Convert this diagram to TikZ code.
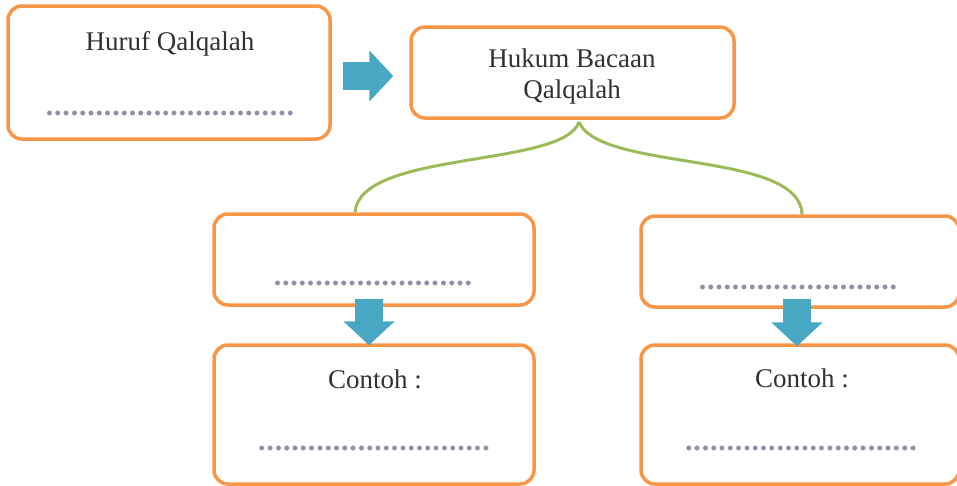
\documentclass[tikz,border=0pt]{standalone}
\usepackage{fontspec}
\setmainfont{Liberation Serif}
\usetikzlibrary{arrows.meta}
\definecolor{boxorange}{RGB}{247,150,70}
\definecolor{linkgreen}{RGB}{155,187,89}
\definecolor{arrowblue}{RGB}{72,168,196}
\definecolor{dotgray}{RGB}{150,140,168}
\definecolor{textgray}{RGB}{50,50,50}
\newcommand{\dotrow}[1]{\foreach \i in {1,...,#1}{\hbox to 8.3pt{\hss.\hss}}}

\begin{document}
\begin{tikzpicture}[x=1pt,y=-1pt,
  box/.style={draw=boxorange,line width=3.5pt,rounded corners=14pt,fill=white,inner sep=0pt},
  label/.style={textgray,font=\fontsize{27}{31}\selectfont,align=center,inner sep=0pt},
  dotline/.style={dotgray,font=\fontsize{30}{31}\selectfont\bfseries,inner sep=0pt},
  branch/.style={linkgreen,line width=3pt},
  bigarrow/.style={arrowblue,line width=28pt,-{Triangle[length=24pt,width=50pt]}}]
  \useasboundingbox (0,0) rectangle (957,485);
  \node[box,minimum width=322,minimum height=133] (huruf) at (169,72.5) {};
  \node[box,minimum width=323,minimum height=91] (hukum) at (572.5,72.5) {};
  \node[box,minimum width=320,minimum height=91] (jenisA) at (374,259.5) {};
  \node[box,minimum width=318,minimum height=91] (jenisB) at (800,261.5) {};
  \node[box,minimum width=320,minimum height=139] (contohA) at (374,414.5) {};
  \node[box,minimum width=318,minimum height=139] (contohB) at (800,414.5) {};
  \coordinate (split) at (579,122);
  \draw[branch] (split) .. controls (563,168) and (360,150) .. ([xshift=-19pt]jenisA.north);
  \draw[branch] (split) .. controls (600,172) and (800,150) .. ([xshift=2pt]jenisB.north);
  \draw[bigarrow] ([xshift=11pt,yshift=-3.5pt]huruf.east) -- ([xshift=-16pt,yshift=-3.5pt]hukum.west);
  \draw[bigarrow] ([xshift=-5pt,yshift=8pt]jenisA.south) -- ([xshift=-5pt,yshift=-2pt]contohA.north);
  \draw[bigarrow] ([xshift=-3pt,yshift=10pt]jenisB.south) -- ([xshift=-3pt,yshift=-3pt]contohB.north);
  \node[label,anchor=base] (hurufT) at (170,50) {Huruf Qalqalah};
  \node[label] (hukumT) at (572,77) {Hukum Bacaan\\Qalqalah};
  \node[label,anchor=base] (contohAT) at (375,388) {Contoh :};
  \node[label,anchor=base] (contohBT) at (802,387) {Contoh :};
  \node[dotline] (hurufD) at (170,113) {\dotrow{30}};
  \node[dotline] (jenisAD) at (373,283) {\dotrow{24}};
  \node[dotline] (jenisBD) at (798,287) {\dotrow{24}};
  \node[dotline] (contohAD) at (374,448) {\dotrow{28}};
  \node[dotline] (contohBD) at (801,448) {\dotrow{28}};
\end{tikzpicture}
\end{document}
